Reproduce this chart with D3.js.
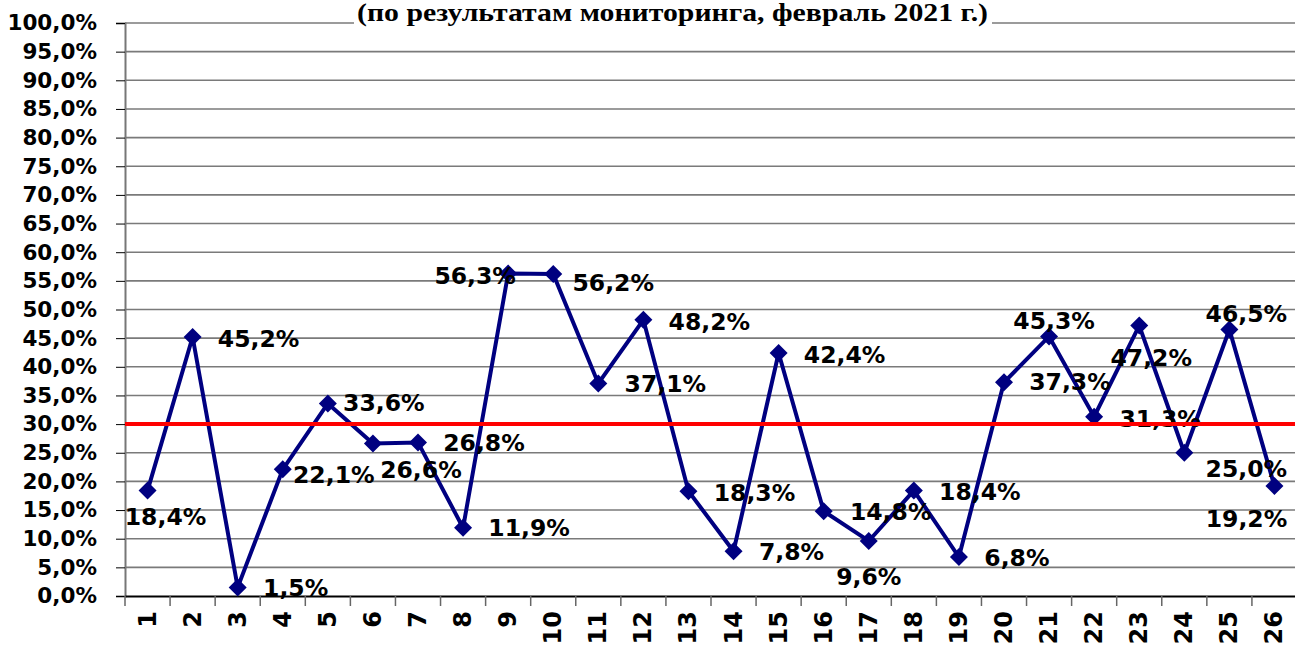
<!DOCTYPE html>
<head>
  <meta charset="utf-8" />
  <script src="https://d3js.org/d3.v7.min.js"></script>
  <style>
    body {
      margin: 0;
      background: #fff;
    }
    svg {
      display: block;
    }
    text {
      font-weight: bold;
    }
  </style>
</head>

<body>
  <script>
    // données
    var title = "(по результатам мониторинга, февраль 2021 г.)";
    var categories = d3.range(1, 27).map(String);
    var values = [18.4, 45.2, 1.5, 22.1, 33.6, 26.6, 26.8, 11.9, 56.3, 56.2,
                  37.1, 48.2, 18.3, 7.8, 42.4, 14.8, 9.6, 18.4, 6.8, 37.3,
                  45.3, 31.3, 47.2, 25.0, 46.5, 19.2];
    var yTicks = d3.range(0, 101, 5);
    var threshold = 30;

    // placement des étiquettes (décalage par rapport au point)
    var labelOffsets = [[18, 26], [66, 2], [58, 1], [51, 6], [56, 0], [48, 26],
                        [66, 1], [66, 0], [-33, 3], [60, 9], [67, 1], [66, 2],
                        [66, 2], [58, 1], [66, 2], [67, 1], [0, 36], [66, 1],
                        [58, 1], [66, 0], [5, -15], [66, 2], [12, 32], [62, 16],
                        [17, -16], [-28, 33]];

    var width = 1295,
      height = 648;

    var svg = d3
      .select("body")
      .append("svg")
      .attr("width", width)
      .attr("height", height);

    var x = d3.scaleBand().domain(categories).range([125, 1297]);
    var y = d3.scaleLinear().domain([0, 100]).range([596, 23]);

    var fmt = function (v) {
      return v.toFixed(1).replace(".", ",") + "%";
    };

    // grille
    svg.append("g")
      .selectAll("line")
      .data(yTicks.filter(function (d) { return d > 0; }))
      .join("line")
      .attr("x1", 125)
      .attr("x2", 1295)
      .attr("y1", function (d) { return y(d); })
      .attr("y2", function (d) { return y(d); })
      .attr("stroke", "#7a7a7a")
      .attr("stroke-width", 1.6);

    // axe Y
    var yAxis = svg.append("g")
      .attr("transform", "translate(125,0)")
      .call(d3.axisLeft(y).tickValues(yTicks).tickSize(9).tickPadding(19).tickFormat(fmt));
    yAxis.select(".domain").attr("stroke", "#777").attr("stroke-width", 2);
    yAxis.selectAll(".tick line").attr("stroke", "#000");
    yAxis.selectAll("text")
      .attr("fill", "#000")
      .style("font-size", "21.5px")
      .style("font-family", "'DejaVu Sans', sans-serif")
      .style("font-weight", "bold");

    // axe X
    var xAxis = svg.append("g")
      .attr("transform", "translate(0,596)")
      .call(d3.axisBottom(x).tickSize(0).tickPadding(0));
    xAxis.select(".domain").attr("stroke", "#000").attr("stroke-width", 2);
    xAxis.selectAll("text")
      .attr("fill", "#000")
      .style("font-size", "24px")
      .style("font-family", "'DejaVu Sans', sans-serif")
      .style("font-weight", "bold")
      .attr("text-anchor", "end")
      .attr("dy", null)
      .attr("y", null)
      .attr("transform", "translate(0,15) rotate(-90)")
      .attr("dominant-baseline", "central");

    svg.append("g")
      .selectAll("line")
      .data(d3.range(0, 27))
      .join("line")
      .attr("x1", function (i) { return 125 + i * x.step(); })
      .attr("x2", function (i) { return 125 + i * x.step(); })
      .attr("y1", 596)
      .attr("y2", 606)
      .attr("stroke", "#666")
      .attr("stroke-width", 1.5);

    // titre (fond blanc qui coupe la ligne du haut)
    svg.append("rect")
      .attr("x", 354)
      .attr("y", 0)
      .attr("width", 638)
      .attr("height", 26)
      .attr("fill", "#fff");
    svg.append("text")
      .attr("x", 357)
      .attr("y", 21)
      .attr("textLength", 631)
      .attr("lengthAdjust", "spacingAndGlyphs")
      .attr("fill", "#000")
      .style("font-family", "'Liberation Serif', serif")
      .style("font-weight", "bold")
      .style("font-size", "25px")
      .text(title);

    var cx = function (i) { return x(categories[i]) + x.bandwidth() / 2; };

    // série
    var line = d3.line()
      .x(function (d, i) { return cx(i); })
      .y(function (d) { return y(d); });

    svg.append("path")
      .datum(values)
      .attr("d", line)
      .attr("fill", "none")
      .attr("stroke", "#000080")
      .attr("stroke-width", 4)
      .attr("stroke-linejoin", "miter");

    svg.append("g")
      .selectAll("path")
      .data(values)
      .join("path")
      .attr("d", "M0,-9L9,0L0,9L-9,0Z")
      .attr("transform", function (d, i) {
        return "translate(" + cx(i) + "," + y(d) + ")";
      })
      .attr("fill", "#000080");

    // étiquettes
    svg.append("g")
      .selectAll("text")
      .data(values)
      .join("text")
      .attr("x", function (d, i) { return cx(i) + labelOffsets[i][0]; })
      .attr("y", function (d, i) { return y(d) + labelOffsets[i][1]; })
      .attr("text-anchor", "middle")
      .attr("dominant-baseline", "central")
      .attr("fill", "#000")
      .style("font-family", "'DejaVu Sans', sans-serif")
      .style("font-weight", "bold")
      .style("font-size", "23.5px")
      .text(fmt);

    // seuil
    svg.append("line")
      .attr("x1", 125)
      .attr("x2", 1295)
      .attr("y1", y(threshold))
      .attr("y2", y(threshold))
      .attr("stroke", "#ff0000")
      .attr("stroke-width", 4);
  </script>
</body>
